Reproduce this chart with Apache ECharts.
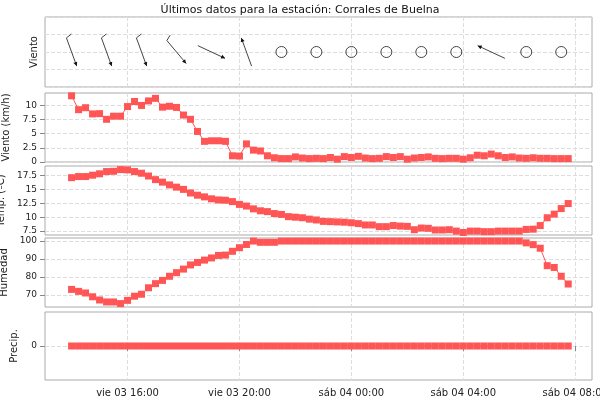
<!DOCTYPE html>
<html><head><meta charset="utf-8">
<script src="https://cdn.jsdelivr.net/npm/echarts@6/dist/echarts.min.js"></script>
<style>html,body{margin:0;padding:0;background:#fff}#c{width:600px;height:400px}</style>
</head><body><div id="c"></div>
<script>
// time in hours since vie 03 00:00, every 15 min from 14:00 to 07:45 (next day)
const startHour = 14, stepHour = 0.25, nPoints = 72;
const windSpeed = [11.7,9.25,9.6,8.5,8.55,7.55,8.1,8.1,9.8,10.7,10.0,10.8,11.25,9.7,9.85,9.65,8.3,7.55,5.4,3.65,3.75,3.75,3.65,1.1,1.05,3.2,2.1,1.95,1.1,0.75,0.6,0.6,0.9,0.7,0.6,0.65,0.6,0.8,0.5,0.95,0.8,1.0,0.7,0.6,0.65,0.95,0.8,0.95,0.5,0.7,0.8,0.9,0.65,0.6,0.65,0.65,0.5,0.75,1.2,1.1,1.4,1.1,0.8,0.9,0.7,0.65,0.75,0.65,0.65,0.6,0.6,0.6];
const temperature = [17.1,17.3,17.3,17.55,17.8,18.2,18.25,18.55,18.5,18.2,17.9,17.4,16.75,16.3,15.8,15.4,15.0,14.35,13.95,13.65,13.3,13.1,13.05,12.8,12.3,12.0,11.5,11.15,11.0,10.65,10.5,10.1,10.0,9.9,9.65,9.5,9.25,9.2,9.15,9.1,9.0,8.85,8.6,8.6,8.3,8.3,8.5,8.4,8.35,7.75,8.05,8.0,7.7,7.7,7.75,7.5,7.25,7.5,7.5,7.4,7.4,7.5,7.5,7.5,7.5,7.8,7.85,8.5,9.9,10.55,11.55,12.45];
const humidity = [73.1,72,71.1,69,67.2,66.1,66.1,65.2,67,69.3,70.4,74,76.3,78.1,80.4,82.4,84.4,86.7,88.1,89.4,90.6,92,92.2,94.3,96.3,98.1,100,99.3,99.3,99.3,
 100,100,100,100,100,100,100,100,100,100,100,100,100,100,100,100,100,100,100,100,100,100,100,100,100,100,100,100,100,100,100,100,100,100,100,
 99,98,96,86.3,85.3,80.4,76.1];
const precipitation = new Array(72).fill(0);
// wind direction samples (every 5th point): index, direction (deg, from), calm flag
const dirIndex = [0,5,10,15,20,25,30,35,40,45,50,55,60,65,70];
const dirDeg   = [340,340,340,320,295,160,0,0,0,0,0,0,115,0,0];
const dirCalm  = [0,0,0,0,0,0,1,1,1,1,1,1,0,1,1];
const xTicks = [16,20,24,28,32];
const xTickLabels = ['vie 03 16:00','vie 03 20:00','sáb 04 00:00','sáb 04 04:00','sáb 04 08:00'];

const times = Array.from({length:nPoints},(_,i)=>startHour+i*stepHour);
const pair = arr => arr.map((v,i)=>[times[i],v]);
const dirData = dirIndex.map((k,j)=>[times[k],2,dirDeg[j],dirCalm[j],windSpeed[k]]);

const red='#ff5555', border='#aaaaaa', gridC='#dddddd';
const tops=[17,93,166,238,312], heights=[70,69,69,69,68];
const grids=tops.map((t,i)=>({left:45,right:8,top:t,height:heights[i],show:true,borderColor:border,borderWidth:1,outerBoundsMode:'none',containLabel:false}));
const xAxes=tops.map((t,i)=>({type:'value',gridIndex:i,min:13.05,max:32.6,
  axisLine:{show:false},axisTick:{show:i===4,customValues:xTicks,lineStyle:{color:'#888'}},
  axisLabel:{show:i===4,customValues:xTicks,formatter:v=>xTickLabels[xTicks.indexOf(v)]||'',color:'#222',fontSize:10,fontFamily:'DejaVu Sans'},
  splitLine:{show:true,lineStyle:{color:gridC,type:'dashed'}}}));
const yBase={axisLine:{show:false},nameLocation:'middle',nameTextStyle:{color:'#222',fontSize:10,fontFamily:'DejaVu Sans'},
  axisLabel:{color:'#222',fontSize:9,fontFamily:'DejaVu Sans'},axisTick:{show:true,lineStyle:{color:'#888'}},
  splitLine:{show:true,lineStyle:{color:gridC,type:'dashed'}}};
const yAxes=[
 Object.assign({},yBase,{gridIndex:0,type:'value',min:0,max:4,interval:1,name:'Viento',nameGap:6,axisLabel:{show:false},axisTick:{show:false}}),
 Object.assign({},yBase,{gridIndex:1,type:'value',min:0,max:12.2,name:'Viento (km/h)',nameGap:26,
   axisLabel:Object.assign({},yBase.axisLabel,{customValues:[0,2.5,5,7.5,10]}),axisTick:{show:true,customValues:[0,2.5,5,7.5,10],lineStyle:{color:'#888'}}}),
 Object.assign({},yBase,{gridIndex:2,type:'value',min:6.8,max:19.2,name:'Temp. (ºC)',nameGap:26,
   axisLabel:Object.assign({},yBase.axisLabel,{customValues:[7.5,10,12.5,15,17.5]}),axisTick:{show:true,customValues:[7.5,10,12.5,15,17.5],lineStyle:{color:'#888'}}}),
 Object.assign({},yBase,{gridIndex:3,type:'value',min:63.3,max:101.7,name:'Humedad',nameGap:26,
   axisLabel:Object.assign({},yBase.axisLabel,{customValues:[70,80,90,100]}),axisTick:{show:true,customValues:[70,80,90,100],lineStyle:{color:'#888'}}}),
 Object.assign({},yBase,{gridIndex:4,type:'value',min:-1,max:1,name:'Precip.',nameGap:26,
   axisLabel:Object.assign({},yBase.axisLabel,{customValues:[0]}),axisTick:{show:true,customValues:[0],lineStyle:{color:'#888'}}})
];
const lineS=(i,arr)=>({type:'line',xAxisIndex:i,yAxisIndex:i,data:pair(arr),symbol:'rect',symbolSize:7,
  lineStyle:{color:red,width:1},itemStyle:{color:red},animation:false});

function renderDir(params,api){
  const c=api.coord([api.value(0),api.value(1)]);
  const calm=api.value(3);
  if(calm) return {type:'circle',shape:{cx:c[0],cy:c[1],r:5.5},style:{fill:'none',stroke:'#444',lineWidth:1}};
  const to=(api.value(2)+180)*Math.PI/180, L=30;
  const vx=Math.sin(to), vy=-Math.cos(to);
  const sx=c[0]-vx*L/2, sy=c[1]-vy*L/2, ex=c[0]+vx*L/2, ey=c[1]+vy*L/2;
  const h=4, w=2;
  const bx=ex-vx*h, by=ey-vy*h;
  const px=-vy, py=vx;
  const ch=[{type:'line',shape:{x1:sx,y1:sy,x2:ex,y2:ey},style:{stroke:'#444',lineWidth:1}},
    {type:'polygon',shape:{points:[[ex,ey],[bx+px*w,by+py*w],[bx-px*w,by-py*w]]},style:{fill:'#111'}}];
  if(api.value(4)>5){
    ch.push({type:'line',shape:{x1:sx,y1:sy,x2:sx+px*(-6)+vx*(-2),y2:sy+py*(-6)+vy*(-2)},style:{stroke:'#444',lineWidth:1}});
  }
  return {type:'group',children:ch};
}

const chart=echarts.init(document.getElementById('c'));
chart.setOption({
  animation:false,
  title:{text:'Últimos datos para la estación: Corrales de Buelna',left:'center',top:0,textStyle:{fontSize:11,fontWeight:'normal',color:'#111',fontFamily:'DejaVu Sans'}},
  grid:grids,xAxis:xAxes,yAxis:yAxes,
  series:[
    {type:'custom',xAxisIndex:0,yAxisIndex:0,data:dirData,renderItem:renderDir,clip:false},
    lineS(1,windSpeed),lineS(2,temperature),lineS(3,humidity),lineS(4,precipitation)
  ]
});
</script></body></html>
